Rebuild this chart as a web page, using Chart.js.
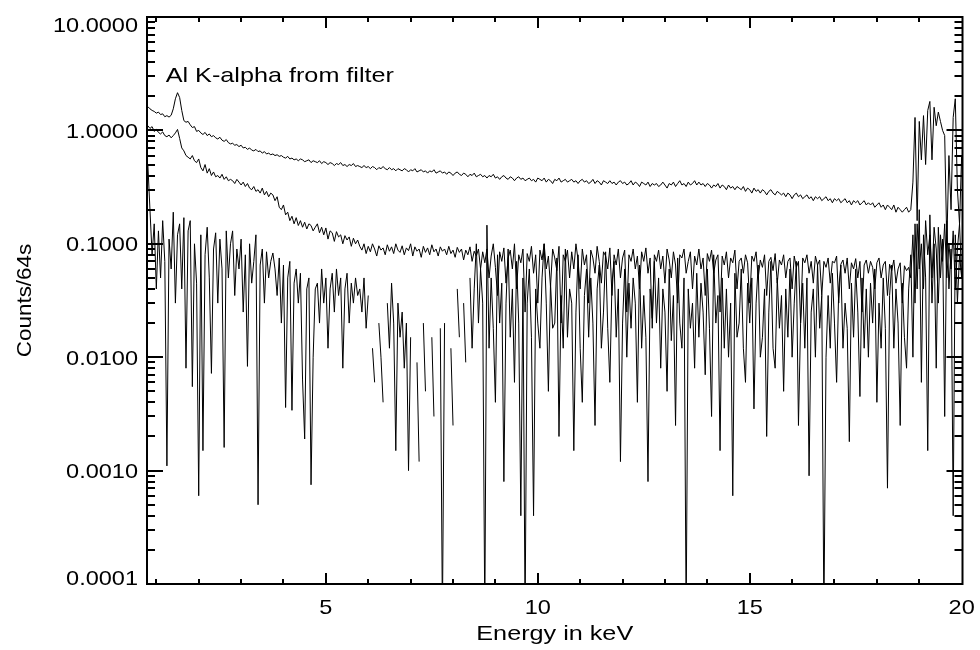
<!DOCTYPE html>
<html>
<head>
<meta charset="utf-8">
<script src="https://cdn.jsdelivr.net/npm/chart.js@4.4.1/dist/chart.umd.min.js"></script>
<style>
  html, body { margin: 0; padding: 0; background: #fff; }
  #wrap { width: 980px; height: 650px; }
  canvas { display: block; }
</style>
</head>
<body>
<div id="wrap"><canvas id="c" width="980" height="650"></canvas></div>
<script>
// ---- channel grid (keV) ----
const firstChannelKeV = 0.80;
const keVPerChannel = 0.05;
const channelCount = 385;
const energies = Array.from({length: channelCount}, (_, i) => +(firstChannelKeV + keVPerChannel * i).toFixed(2));

// ---- axis tick labels ----
const xTickLabels = [5, 10, 15, 20];
const yTickLabels = [0.0001, 0.001, 0.01, 0.1, 1, 10];

// ---- series values (counts / 64 s), one value per channel, null = zero counts ----
const filterSpectrum = [
1.62,1.55,1.5,1.47,1.42,1.45,1.38,1.4,1.32,1.35,1.31,1.36,1.55,1.9,2.15,1.95,1.5,1.22,1.18,1.2,
1.12,1.06,1.08,0.98,1.0,0.95,0.92,0.96,0.9,0.93,0.88,0.9,0.86,0.84,0.87,0.82,0.8,0.83,0.78,0.76,
0.77,0.74,0.75,0.72,0.74,0.7,0.71,0.68,0.7,0.67,0.66,0.68,0.65,0.66,0.63,0.65,0.62,0.63,0.61,0.62,
0.6,0.61,0.59,0.6,0.58,0.57,0.59,0.56,0.57,0.55,0.56,0.54,0.56,0.55,0.53,0.54,0.55,0.52,0.54,0.53,
0.52,0.54,0.51,0.53,0.52,0.5,0.52,0.51,0.49,0.51,0.5,0.52,0.49,0.5,0.48,0.5,0.49,0.51,0.48,0.49,
0.48,0.47,0.49,0.47,0.48,0.46,0.48,0.47,0.45,0.47,0.46,0.48,0.46,0.45,0.47,0.45,0.46,0.44,0.46,0.45,
0.44,0.46,0.45,0.43,0.45,0.44,0.46,0.43,0.44,0.45,0.43,0.44,0.42,0.44,0.43,0.45,0.42,0.43,0.44,0.42,
0.43,0.41,0.43,0.42,0.4,0.42,0.43,0.41,0.4,0.42,0.41,0.39,0.41,0.4,0.42,0.39,0.4,0.41,0.39,0.4,
0.38,0.4,0.39,0.41,0.38,0.39,0.37,0.39,0.4,0.38,0.37,0.39,0.38,0.36,0.38,0.39,0.37,0.38,0.36,0.37,
0.38,0.36,0.37,0.35,0.38,0.37,0.36,0.38,0.35,0.37,0.36,0.34,0.37,0.36,0.38,0.35,0.36,0.37,0.35,0.36,
0.37,0.35,0.36,0.34,0.36,0.37,0.35,0.36,0.34,0.35,0.37,0.34,0.36,0.35,0.33,0.36,0.35,0.34,0.36,0.34,
0.35,0.33,0.35,0.36,0.34,0.35,0.33,0.34,0.36,0.33,0.35,0.34,0.32,0.35,0.34,0.33,0.35,0.32,0.34,0.33,
0.34,0.32,0.33,0.35,0.33,0.31,0.34,0.33,0.35,0.32,0.34,0.36,0.33,0.34,0.32,0.35,0.33,0.34,0.36,0.33,
0.35,0.33,0.34,0.32,0.34,0.33,0.31,0.33,0.32,0.34,0.31,0.33,0.32,0.3,0.33,0.31,0.32,0.3,0.32,0.31,
0.3,0.32,0.29,0.31,0.3,0.28,0.31,0.29,0.3,0.28,0.3,0.29,0.27,0.29,0.3,0.28,0.27,0.29,0.28,0.27,
0.28,0.26,0.28,0.27,0.25,0.27,0.28,0.26,0.27,0.25,0.26,0.27,0.25,0.26,0.24,0.26,0.25,0.26,0.24,0.25,
0.26,0.24,0.25,0.23,0.25,0.24,0.25,0.23,0.24,0.25,0.23,0.24,0.22,0.24,0.23,0.24,0.22,0.23,0.24,0.22,
0.23,0.22,0.23,0.21,0.22,0.23,0.21,0.22,0.2,0.22,0.21,0.2,0.22,0.19,0.21,0.2,0.19,0.2,0.21,0.19,
0.2,0.35,1.3,0.16,1.2,0.55,1.35,0.5,1.5,1.8,0.55,1.6,1.1,1.45,1.2,1.0,0.9,0.1,0.6,0.2,
1.3,1.9,0.3,0.15,0.6
];

const middleSpectrum = [
1.1,1.04,1.08,0.98,1.02,0.96,0.93,0.97,0.9,0.88,0.91,0.86,0.9,0.95,1.02,0.85,0.7,0.66,0.6,0.58,
0.56,0.6,0.54,0.52,0.56,0.47,0.44,0.5,0.42,0.46,0.4,0.43,0.39,0.4,0.38,0.41,0.37,0.39,0.36,0.37,
0.36,0.34,0.37,0.35,0.33,0.35,0.32,0.34,0.31,0.3,0.32,0.29,0.3,0.28,0.31,0.27,0.29,0.26,0.28,0.27,
0.24,0.26,0.21,0.2,0.22,0.18,0.19,0.16,0.175,0.15,0.17,0.145,0.16,0.14,0.155,0.135,0.15,0.145,0.13,0.14,
0.15,0.125,0.14,0.12,0.138,0.11,0.13,0.125,0.105,0.128,0.115,0.12,0.1,0.118,0.108,0.115,0.095,0.112,0.1,0.108,
0.095,0.088,0.1,0.082,0.095,0.085,0.1,0.09,0.078,0.096,0.088,0.092,0.08,0.098,0.086,0.094,0.082,0.1,0.088,0.084,
0.096,0.08,0.092,0.087,0.1,0.078,0.094,0.086,0.09,0.076,0.095,0.084,0.092,0.08,0.098,0.085,0.09,0.078,0.094,0.086,
0.09,0.08,0.095,0.082,0.088,0.076,0.093,0.084,0.09,0.072,0.088,0.08,0.094,0.07,0.086,0.078,0.09,0.06,0.085,0.068,
0.09,0.05,0.078,0.1,0.062,0.035,0.085,0.07,0.092,0.045,0.075,0.088,0.06,0.1,0.04,0.08,0.068,0.09,0.025,0.082,
0.07,0.095,0.055,0.08,0.03,0.088,0.072,0.1,0.06,0.078,0.042,0.09,0.075,0.058,0.095,0.02,0.08,0.07,0.088,0.05,
0.085,0.06,0.1,0.072,0.04,0.09,0.065,0.08,0.03,0.088,0.075,0.055,0.095,0.07,0.045,0.085,0.078,0.06,0.092,0.035,
0.08,0.065,0.09,0.05,0.075,0.088,0.025,0.08,0.07,0.09,0.06,0.078,0.04,0.085,0.07,0.092,0.055,0.075,0.018,0.08,
0.07,0.088,0.06,0.078,0.045,0.09,0.072,0.05,0.085,0.065,0.03,0.08,0.075,0.09,0.055,0.07,0.085,0.04,0.078,0.065,
0.09,0.06,0.075,0.035,0.082,0.07,0.088,0.055,0.072,0.08,0.025,0.078,0.065,0.085,0.05,0.075,0.068,0.088,0.04,0.07,
0.075,0.055,0.08,0.068,0.03,0.078,0.07,0.085,0.05,0.072,0.062,0.08,0.035,0.07,0.076,0.058,0.082,0.045,0.072,0.065,
0.08,0.05,0.07,0.075,0.04,0.078,0.062,0.07,0.02,0.075,0.068,0.08,0.055,0.07,0.045,0.078,0.065,0.072,0.035,0.07,
0.062,0.075,0.045,0.07,0.068,0.078,0.03,0.066,0.072,0.055,0.075,0.04,0.068,0.06,0.074,0.05,0.07,0.025,0.065,0.072,
0.055,0.07,0.062,0.04,0.068,0.075,0.05,0.065,0.07,0.035,0.066,0.058,0.072,0.045,0.06,0.068,0.03,0.064,0.058,0.062,
0.05,0.12,0.03,0.15,0.06,0.1,0.04,0.16,0.08,0.12,0.05,0.14,0.09,0.03,0.12,0.07,0.15,0.05,0.1,0.06,
0.13,0.04,0.09,0.15,0.05
];

const lowSpectrum = [
0.5,0.2,0.08,0.15,0.04,0.13,0.05,0.16,0.07,0.0011,0.11,0.06,0.19,0.03,0.12,0.15,0.04,0.17,0.008,0.13,
0.16,0.0055,0.1,0.045,0.0006,0.12,0.0015,0.08,0.14,0.05,0.0072,0.09,0.125,0.03,0.11,0.06,0.0016,0.13,0.05,0.1,
0.13,0.035,0.09,0.06,0.11,0.025,0.08,0.0083,0.1,0.045,0.07,0.12,0.0005,0.065,0.09,0.03,0.085,0.05,0.07,0.083,
0.06,0.035,0.075,0.02,0.065,0.0036,0.05,0.07,0.0034,0.045,0.06,0.03,0.055,0.0063,0.0019,0.04,0.05,0.00075,0.01,0.04,
0.045,0.02,0.06,0.03,0.05,0.012,0.04,0.055,0.025,0.06,0.035,0.05,0.008,0.04,0.055,0.02,0.045,0.03,0.05,0.035,
0.04,0.025,0.05,0.018,0.035,null,0.012,0.006,null,0.02,0.01,0.004,null,0.03,0.012,0.045,0.02,0.0015,0.03,0.015,
0.025,0.008,0.02,0.001,0.015,null,null,0.009,0.0012,null,0.02,0.005,null,null,0.015,0.003,null,null,0.018,0.00005,
0.02,null,null,0.012,0.0025,null,0.04,0.015,null,0.03,0.009,null,0.05,0.012,0.04,0.1,0.02,0.06,0.03,0.00005,
0.146,0.012,0.05,0.018,0.004,0.08,0.02,0.045,0.0008,0.03,0.09,0.015,0.04,0.006,0.07,0.02,0.0004,0.05,0.00005,0.03,
0.06,0.015,0.0004,0.04,0.02,0.012,0.05,0.1,0.03,0.005,0.045,0.018,0.02,0.075,0.002,0.035,0.012,0.09,0.015,0.04,
0.03,0.0015,0.025,0.08,0.012,0.004,0.035,0.06,0.015,0.05,0.02,0.0025,0.04,0.065,0.012,0.025,0.085,0.018,0.006,0.045,
0.07,0.015,0.04,0.0012,0.02,0.06,0.01,0.045,0.018,0.05,0.03,0.004,0.065,0.012,0.035,0.015,0.0008,0.04,0.022,0.07,
0.02,0.05,0.008,0.04,0.025,0.005,0.06,0.014,0.035,0.0025,0.075,0.02,0.012,0.05,0.00005,0.04,0.018,0.03,0.008,0.055,
0.015,0.045,0.025,0.007,0.06,0.018,0.003,0.08,0.02,0.035,0.0015,0.05,0.012,0.04,0.01,0.03,0.0006,0.055,0.015,0.02,
0.06,0.012,0.006,0.045,0.02,0.05,0.0035,0.03,0.065,0.01,0.015,0.04,0.002,0.025,0.07,0.012,0.008,0.05,0.018,0.035,
0.005,0.04,0.015,0.06,0.01,0.03,0.07,0.0025,0.02,0.045,0.012,0.05,0.0009,0.025,0.04,0.01,0.065,0.018,0.035,0.00005,
0.01,0.035,0.012,0.055,0.02,0.006,0.04,0.065,0.012,0.03,0.018,0.0018,0.045,0.015,0.06,0.025,0.0045,0.05,0.012,0.04,
0.01,0.045,0.02,0.06,0.004,0.03,0.012,0.05,0.018,0.0007,0.035,0.065,0.012,0.04,0.02,0.0025,0.045,0.015,0.008,0.04,
0.08,0.01,0.15,0.04,0.2,0.006,0.12,0.05,0.0015,0.18,0.03,0.1,0.008,0.14,0.05,0.11,0.003,0.16,0.04,0.09,
0.0004,0.12,0.03,0.08,0.05
];

const xTitle = 'Energy in keV';
const yTitle = 'Counts/64s';
const noteText = 'Al K-alpha from filter';

const FONT = '"Liberation Sans", Arial, Helvetica, sans-serif';

function toPoints(vals) {
  return energies.map((x, i) => ({ x: x, y: vals[i] === undefined ? null : vals[i] }));
}

function wideText(ctx, text, x, y, sx, align) {
  ctx.save();
  ctx.translate(x, y);
  ctx.scale(sx, 1);
  ctx.textAlign = align;
  ctx.fillText(text, 0, 0);
  ctx.restore();
}

const frameAndTicks = {
  id: 'frameAndTicks',
  afterDraw(chart) {
    const { ctx, chartArea: a, scales } = chart;
    const xs = scales.x, ys = scales.y;
    ctx.save();
    ctx.strokeStyle = '#000';
    ctx.fillStyle = '#000';
    ctx.lineWidth = 2;
    ctx.strokeRect(a.left, a.top, a.right - a.left, a.bottom - a.top);
    ctx.beginPath();
    for (let v = 1; v <= 20; v++) {
      const px = Math.round(xs.getPixelForValue(v));
      if (px < a.left + 1 || px > a.right - 1) continue;
      const len = (v % 5 === 0) ? 11 : 5;
      ctx.moveTo(px, a.bottom); ctx.lineTo(px, a.bottom - len);
      ctx.moveTo(px, a.top); ctx.lineTo(px, a.top + len);
    }
    ctx.stroke();
    ctx.beginPath();
    for (let e = -4; e <= 0; e++) {
      for (let m = 1; m <= 9; m++) {
        const v = m * Math.pow(10, e);
        const py = Math.round(ys.getPixelForValue(v));
        const len = (m === 1) ? 16 : 8;
        ctx.moveTo(a.left, py); ctx.lineTo(a.left + len, py);
        ctx.moveTo(a.right, py); ctx.lineTo(a.right - len, py);
      }
    }
    ctx.stroke();
    ctx.font = '21px ' + FONT;
    ctx.textBaseline = 'alphabetic';
    yTickLabels.forEach((v, i) => {
      const py = ys.getPixelForValue(v);
      let base = py + 7.5;
      if (i === 0) base = py + 0.5;
      if (i === yTickLabels.length - 1) base = py + 14.5;
      wideText(ctx, v.toFixed(4), a.left - 9, base, 1.12, 'right');
    });
    xTickLabels.forEach(v => {
      const px = xs.getPixelForValue(v);
      wideText(ctx, String(v), px, a.bottom + 29.5, 1.12, 'center');
    });
    wideText(ctx, xTitle, (a.left + a.right) / 2, a.bottom + 56, 1.2, 'center');
    ctx.save();
    ctx.translate(31, (a.top + a.bottom) / 2);
    ctx.rotate(-Math.PI / 2);
    wideText(ctx, yTitle, 0, 0, 1.07, 'center');
    ctx.restore();
    wideText(ctx, noteText, 165.7, 81.7, 1.2, 'left');
    ctx.restore();
  }
};

const lineStyle = { borderColor: '#000', borderWidth: 1, pointRadius: 0, tension: 0, spanGaps: false, fill: false };

new Chart(document.getElementById('c'), {
  type: 'line',
  data: {
    datasets: [
      Object.assign({ label: 'With filter', data: toPoints(filterSpectrum) }, lineStyle),
      Object.assign({ label: 'Middle', data: toPoints(middleSpectrum) }, lineStyle),
      Object.assign({ label: 'Low', data: toPoints(lowSpectrum) }, lineStyle)
    ]
  },
  options: {
    responsive: false,
    animation: false,
    devicePixelRatio: 1,
    layout: { padding: { top: 17, right: 17.5, left: 0, bottom: 0 } },
    plugins: { legend: { display: false }, tooltip: { enabled: false } },
    scales: {
      x: {
        type: 'linear', min: 0.78, max: 20.02,
        ticks: { display: false },
        grid: { display: false, drawTicks: false },
        border: { display: false },
        afterFit(s) { s.height = 66; }
      },
      y: {
        type: 'logarithmic', min: 0.0001, max: 10,
        ticks: { display: false },
        grid: { display: false, drawTicks: false },
        border: { display: false },
        afterFit(s) { s.width = 147; }
      }
    }
  },
  plugins: [frameAndTicks]
});
</script>
</body>
</html>
